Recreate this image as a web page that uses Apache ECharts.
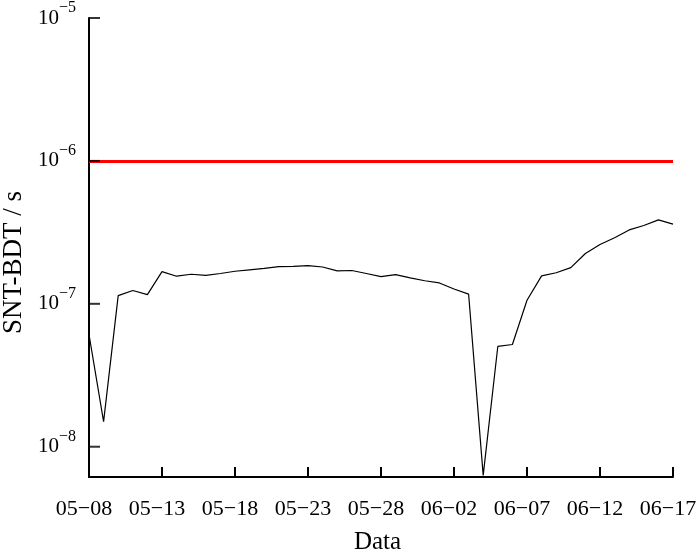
<!DOCTYPE html>
<html>
<head>
<meta charset="utf-8">
<script src="https://cdn.jsdelivr.net/npm/echarts@6/dist/echarts.min.js"></script>
<style>
  html, body { margin: 0; padding: 0; background: #fff; }
  #chart { width: 700px; height: 554px; }
</style>
</head>
<body>
<div id="chart"></div>
<script>
  // dates, one point per day
  var dates = [
    '05-08','05-09','05-10','05-11','05-12','05-13','05-14','05-15','05-16','05-17',
    '05-18','05-19','05-20','05-21','05-22','05-23','05-24','05-25','05-26','05-27',
    '05-28','05-29','05-30','05-31','06-01','06-02','06-03','06-04','06-05','06-06',
    '06-07','06-08','06-09','06-10','06-11','06-12','06-13','06-14','06-15','06-16',
    '06-17'
  ];
  // SNT-BDT offset (s)
  var offsets = [
    6.1e-8, 1.5e-8, 1.14e-7, 1.24e-7, 1.16e-7, 1.68e-7, 1.56e-7, 1.61e-7, 1.58e-7, 1.63e-7,
    1.69e-7, 1.73e-7, 1.77e-7, 1.82e-7, 1.83e-7, 1.85e-7, 1.81e-7, 1.70e-7, 1.71e-7, 1.63e-7,
    1.55e-7, 1.60e-7, 1.52e-7, 1.45e-7, 1.40e-7, 1.27e-7, 1.17e-7, 6.3e-9, 5.03e-8, 5.19e-8,
    1.06e-7, 1.57e-7, 1.65e-7, 1.79e-7, 2.25e-7, 2.60e-7, 2.90e-7, 3.29e-7, 3.53e-7, 3.87e-7,
    3.61e-7
  ];
  var yTicks = [1e-8, 1e-7, 1e-6, 1e-5];   // decade tick marks
  var limit = 1e-6;      // red threshold line
  var yMin = 6.14e-9;
  var yMax = 1e-5;

  var serif = '"Liberation Serif", "DejaVu Serif", serif';

  var chart = echarts.init(document.getElementById('chart'));
  chart.setOption({
    animation: false,
    backgroundColor: '#fff',
    grid: { left: 89, right: 27, top: 18, bottom: 77, outerBoundsMode: 'none', containLabel: false },
    xAxis: {
      type: 'category',
      data: dates,
      boundaryGap: false,
      name: 'Data',
      nameLocation: 'middle',
      nameGap: 53,
      nameTextStyle: { fontFamily: serif, fontSize: 25, color: '#000', padding: [0, 7, 0, 0] },
      axisLine: { show: true, onZero: false, lineStyle: { color: '#000', width: 2 } },
      axisTick: { inside: true, length: 10, interval: 4, lineStyle: { color: '#000', width: 2 } },
      axisLabel: {
        interval: 4,
        margin: 21,
        padding: [0, 10, 0, 0],
        fontFamily: serif,
        fontSize: 22,
        color: '#000',
        formatter: function (v) { return v.replace('-', '\u2212'); }
      },
      splitLine: { show: false }
    },
    yAxis: {
      type: 'log',
      logBase: 10,
      min: yMin,
      max: yMax,
      name: 'SNT-BDT / s',
      nameLocation: 'middle',
      nameGap: 62,
      nameTextStyle: { fontFamily: serif, fontSize: 27, color: '#000', padding: [0, 30, 0, 0] },
      axisLine: { show: true, lineStyle: { color: '#000', width: 2 } },
      axisTick: { show: false },
      axisLabel: {
        margin: 13,
        hideOverlap: false,
        color: '#000',
        formatter: function (v) {
          var lg = Math.log10(v);
          var e = Math.round(lg);
          if (Math.abs(lg - e) > 1e-6) return '';
          return '{b|10}{e|\u2212' + (-e) + '}';
        },
        rich: {
          b: { fontFamily: serif, fontSize: 21, color: '#000' },
          e: { fontFamily: serif, fontSize: 16, color: '#000', padding: [0, 0, 20, 0] }
        }
      },
      splitLine: { show: false }
    },
    series: [{
      type: 'line',
      data: offsets,
      symbol: 'none',
      lineStyle: { color: '#000', width: 1.2 },
      markLine: {
        silent: true,
        symbol: ['none', 'none'],
        label: { show: false },
        lineStyle: { color: '#ff0000', width: 3, type: 'solid' },
        data: [[
          { coord: [0, limit] },
          { coord: [dates.length - 1, limit] }
        ]]
      }
    }, {
      // inner tick marks on the y axis, one at each decade
      type: 'scatter',
      silent: true,
      clip: false,
      z: 5,
      symbol: 'rect',
      symbolSize: [11, 2],
      symbolOffset: [5.5, 0],
      itemStyle: { color: '#000' },
      data: yTicks.map(function (v) { return [0, v]; })
    }]
  });
</script>
</body>
</html>
